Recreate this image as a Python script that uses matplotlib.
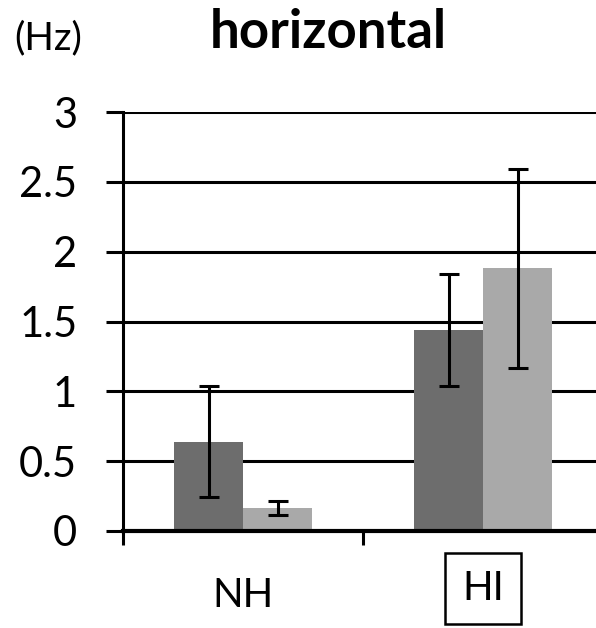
import matplotlib
matplotlib.use("Agg")
import matplotlib.pyplot as plt
import numpy as np

groups = ["NH", "HI"]
series_dark = [0.64, 1.44]
series_dark_err = [0.40, 0.40]
series_light = [0.165, 1.88]
series_light_err = [0.05, 0.71]
yticks = [0, 0.5, 1, 1.5, 2, 2.5, 3]
ytick_labels = ["0", "0.5", "1", "1.5", "2", "2.5", "3"]

plt.rcParams["font.family"] = ["Lato", "DejaVu Sans"]

fig = plt.figure(figsize=(5.96, 6.28), dpi=100)
W, H = 596, 628
ax = fig.add_axes([123 / W, 1 - 531 / H, 480 / W, (531 - 112) / H])

x = np.arange(len(groups))
bw = 0.2875
ax.bar(x - bw / 2, series_dark, bw, color="#6d6d6d", zorder=3)
ax.bar(x + bw / 2, series_light, bw, color="#a9a9a9", zorder=3)
ax.errorbar(x - bw / 2, series_dark, yerr=series_dark_err, fmt="none",
            ecolor="black", elinewidth=2.2, capsize=7, capthick=2.2, zorder=4)
ax.errorbar(x + bw / 2, series_light, yerr=series_light_err, fmt="none",
            ecolor="black", elinewidth=2.2, capsize=7, capthick=2.2, zorder=4)

ax.set_xlim(-0.5, 1.5)
ax.set_ylim(0, 3)
ax.set_yticks(yticks)
ax.set_yticklabels(ytick_labels, fontsize=30)
ax.yaxis.grid(True, color="black", linewidth=2.2, zorder=1)
ax.tick_params(axis="y", length=12, width=2.2, pad=21, color="black")

ax.set_xticks(x)
ax.set_xticklabels([])
ax.set_xticks([-0.5, 0.5, 1.5], minor=True)
ax.tick_params(axis="x", which="major", length=0)
ax.tick_params(axis="x", which="minor", length=10, width=2.2, direction="out")

for s in ["top", "right"]:
    ax.spines[s].set_visible(False)
ax.spines["left"].set_linewidth(2.2)
ax.spines["bottom"].set_linewidth(3)
ax.spines["bottom"].set_zorder(5)

# category labels under the axis
ax.text(0, -0.46, "NH", ha="center", va="center", fontsize=29,
        transform=ax.transData, clip_on=False)
ax.text(1, -0.41, "HI", ha="center", va="center", fontsize=29,
        transform=ax.transData, clip_on=False,
        bbox=dict(boxstyle="square,pad=0.42", fc="white", ec="black", lw=1.8))

fig.text(14 / W, 1 - 38 / H, "(Hz)", ha="left", va="center", fontsize=28)
fig.text(328 / W, 1 - 33 / H, "horizontal", ha="center", va="center",
         fontsize=38, fontweight="bold")

fig.savefig("out.png", dpi=100)
